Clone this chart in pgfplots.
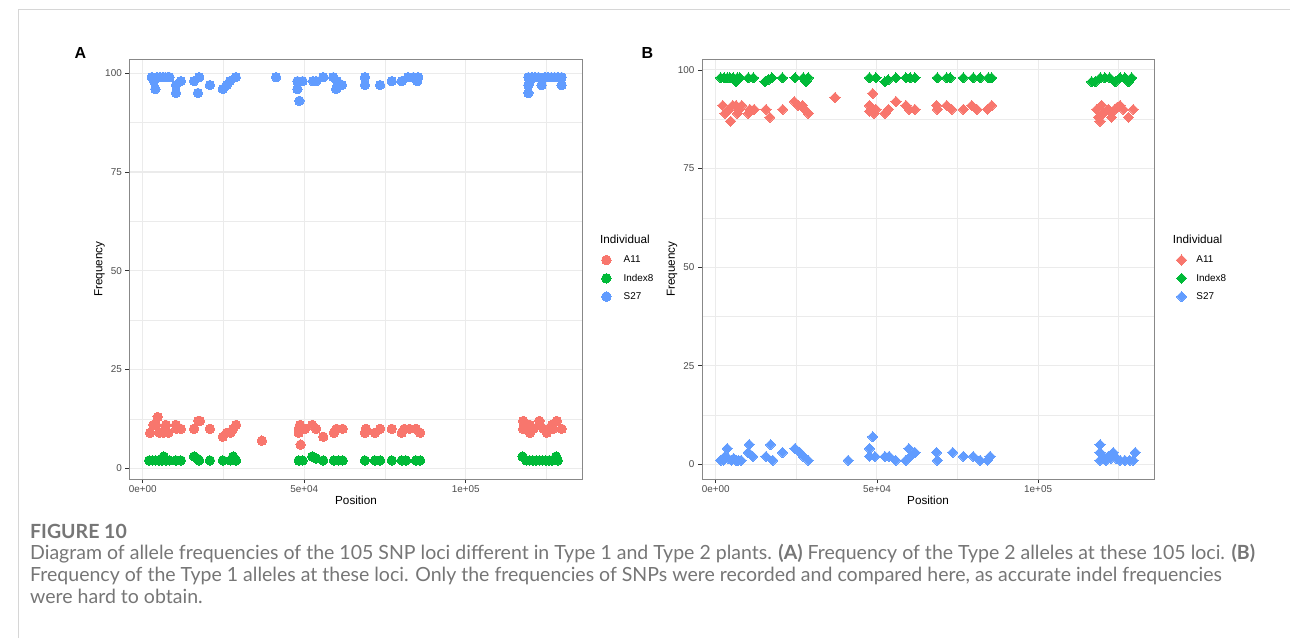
\documentclass[border=0pt]{standalone}
\usepackage{fontspec}
\setmainfont{Liberation Sans}
\newfontfamily\capfont{Lato}
\usepackage{pgfplots}
\pgfplotsset{compat=1.18}
\definecolor{cA}{HTML}{F8766D}
\definecolor{cI}{HTML}{00BA38}
\definecolor{cS}{HTML}{619CFF}
\definecolor{gridc}{HTML}{EBEBEB}
\definecolor{tickc}{HTML}{4D4D4D}
\definecolor{framec}{HTML}{888888}
\definecolor{capc}{HTML}{767676}
\definecolor{outc}{HTML}{D6D6D6}
\newlength\capw

\pgfplotsset{
 ggbase/.style={
  scale only axis, anchor=south west,
  axis line style={framec, line width=0.8pt},
  tick align=outside, major tick length=4pt, minor tick length=0pt,
  tick pos=left,
  tick style={black!80, line width=0.8pt},
  xtick={0,50000,100000}, xticklabels={0e+00,5e+04,1e+05},
  ytick={0,25,50,75,100}, yticklabels={0,25,50,75,100},
  minor xtick={25000,75000,125000}, minor ytick={12.5,37.5,62.5,87.5},
  xmajorgrids, ymajorgrids, xminorgrids, yminorgrids,
  major grid style={gridc, line width=1.1pt},
  minor grid style={gridc, line width=0.55pt},
  tick label style={font=\fontsize{9.9}{10}\selectfont, text=tickc},
  xticklabel style={yshift=1pt},
  scaled x ticks=false,
  legend style={draw=none, fill=none, inner sep=0pt, outer sep=0pt, anchor=north west,
    font=\fontsize{9.9}{10}\selectfont, row sep=0pt,
    nodes={inner sep=0pt, minimum height=18.3pt}},
  legend cell align=left,
  legend image code/.code={\draw[##1] plot coordinates {(0pt,0pt)};},
 },
 dotA/.style={only marks, mark=*, mark size=4.7pt, color=#1, mark options={fill=#1, draw=#1, line width=0pt}},
 dotB/.style={only marks, mark=square*, mark size=3.6pt, color=#1, mark options={rotate=45, fill=#1, draw=#1, line width=0pt}},
}

\begin{document}
\settowidth\capw{\capfont\fontsize{10}{12}\selectfont Diagram of allele frequencies of the 105 SNP loci different in Type 1 and Type 2 plants. \textbf{(A)} Frequency of the Type 2 alleles at these 105 loci. \textbf{(B)}}%
\pgfmathsetmacro\capsz{10*1225/\capw}%
\begin{tikzpicture}[x=1pt,y=1pt]
\useasboundingbox (0,0) rectangle (1290,638);
\fill[white] (0,0) rectangle (1290,638);
\draw[outc, line width=1pt] (18.5,0) -- (18.5,628) -- (1290,628);

% ---------------- Panel A ----------------
\begin{axis}[ggbase, at={(129.3pt,159pt)}, width=453.4pt, height=420pt,
  xmin=-4150, xmax=136223, ymin=-2.7, ymax=103.6,
  legend style={at={(axis description cs:1.0419,0.5432)}, column sep=12.6pt}]
\addplot[dotA=cA] coordinates {
(2270,9)(3300,11)(4100,11)(4640,13)(5160,9)(6400,9)(7200,11)(6900,10)(7900,9)
(10300,11)(10500,10)(11800,10)
(15900,10)(17200,12)(17700,12)
(20800,10)
(24800,8)(26000,9)(27200,9)(28000,10)(28900,11)
(36900,7)
(48700,11)(48300,10)(48300,9)(49500,10)(50300,10)(48900,6)
(52500,11)(53700,10)(55900,8)
(59200,9)(60000,10)(61900,10)
(68800,9)(69100,10)(71900,9)(73500,10)(77100,10)(80200,9)(81000,10)(82600,10)(84600,10)(85900,9)
(117800,12)(117800,10)(119900,9)(119900,11)(121000,10)(122800,12)(123000,11)(125100,9)(124100,10)(126700,11)(127100,10)(128200,12)(129700,10)
};
\addlegendentry{A11}
\addplot[dotA=cI] coordinates {
(2000,2)(3000,2)(4000,2)(5000,2)(6000,2)(6500,3)(7300,2)(8300,2)(10300,2)(11800,2)
(15900,3)(16800,2.5)(17500,2)(20800,2)(24800,2)(27200,2)(28000,3)(28900,2)
(48300,2)(49500,2)(52500,3)(53700,2.5)(55900,2)(59200,2)(60600,2)(61900,2)
(68800,2)(71900,2)(73500,2)(77100,2)(80200,2)(81500,2)(84600,2)(85900,2)
(117600,3)(118800,2)(119800,2)(120800,2)(121800,2)(122800,2)(123800,2)(124800,2)(125800,2)(126800,2)(128000,3)(128500,2)
};
\addlegendentry{Index8}
\addplot[dotA=cS] coordinates {
(2800,99)(3500,98)(3900,96)(4500,99)(5400,99)(6200,99)(7000,99)(7800,99)(8300,99)
(10300,97)(10300,95)(11800,98)
(15900,98)(17500,99)(17100,95)
(20800,97)
(24800,96)(26000,97)(27000,98)(28800,99)
(41300,99)
(47900,98)(47900,96)(48500,93)(49500,98)
(52700,98)(53700,98)(55900,99)
(59000,99)(60200,98)(59900,96)(61700,97)
(68800,99)(68800,97)(73500,97)(77100,98)(80200,98)(82200,99)(83800,99)(85300,99)(85000,98)
(119400,99)(119400,95)(119400,97)(119900,98)(120500,99)(121500,99)(122500,99)(123500,97)(124500,99)(125500,99)(126500,99)(127500,99)(128500,99)(129700,97)(129700,99)
};
\addlegendentry{S27}
\end{axis}

% ---------------- Panel B ----------------
\begin{axis}[ggbase, at={(702pt,159pt)}, width=452.3pt, height=419.7pt,
  xmin=-4250, xmax=136040, ymin=-3.73, ymax=102.7,
  legend style={at={(axis description cs:1.049,0.5436)}, column sep=9.8pt}]
\addplot[dotB=cA] coordinates {
(2170,91)(2900,89)(3600,89.5)(4640,87)(5260,91)(6300,91)(6700,89)(7300,90)(8050,91)(10100,89)(10600,90)(11900,90)
(15600,90)(16800,88)(20800,90)
(24400,92)(25600,91)(26900,91)(27600,90)(28700,89)
(37000,93)
(47700,91)(47700,89.5)(48700,94)(48700,90)(49100,89)(49700,90)
(52500,89)(53600,90)(55900,92)(59000,91)(60000,90)(61800,90)
(68500,91)(68750,90)(71650,91)(73200,90)(76800,90)(79400,91)(81000,90)(84300,90)(85600,91)
(118200,90)(118700,88)(119200,87)(119700,91)(120200,89)(121800,90)(122800,88)(123800,90)(124500,90.5)(125400,91)(126400,90)(128000,88)(129500,90)
};
\addlegendentry{A11}
\addplot[dotB=cI] coordinates {
(1540,98)(2600,98)(3600,98)(4400,98)(5400,98)(6300,97)(6700,98)(7500,98)(10100,98)(11700,98)
(15300,97)(16300,97.5)(17400,98)(20700,98)(24600,98)(27200,98)(28000,97)(28700,98)
(47700,98)(49700,98)(52500,97)(53500,97.5)(55900,98)(59000,98)(60300,98)(61800,98)
(68750,98)(71650,98)(72700,98)(76800,98)(79900,98)(82000,98)(84600,98)(85600,98)
(116600,97)(117700,97)(119300,98)(120700,98)(122200,98)(123900,97)(125400,98)(126900,98)(128000,97)(129000,98)
};
\addlegendentry{Index8}
\addplot[dotB=cS] coordinates {
(1540,1)(2400,1)(2900,2)(3600,4)(3900,1.5)(4900,1)(5600,1.5)(6300,1)(7000,1)(7900,1)(10100,3)(10400,5)(11500,2)
(15600,2)(17000,5)(17700,1)(20700,3)(24600,4)(26100,3)(27200,2)(28700,1)(41100,1)
(47700,4)(47700,2)(48700,7)(49400,2)(52500,2)(53800,2)(55800,1)(59000,1)(59900,4)(60400,2)(61800,3)
(68500,3)(68750,1)(73500,3)(76800,2)(79900,2)(82000,1)(84300,1)(85100,2)
(119200,5)(119200,3)(119200,1)(120200,2)(121000,1)(121800,2)(122500,1.5)(123300,3)(124300,1.5)(125400,1)(126900,1)(128400,1)(129500,1)(130100,3)
};
\addlegendentry{S27}
\end{axis}

% ---------------- titles and labels ----------------
\node[anchor=base, font=\fontsize{16}{16}\selectfont\bfseries] at (80.5,638-58.3) {A};
\node[anchor=base, font=\fontsize{16}{16}\selectfont\bfseries] at (647.5,638-58.3) {B};
\node[rotate=90, font=\fontsize{11.7}{12}\selectfont] at (99.5,638-269) {Frequency};
\node[rotate=90, font=\fontsize{11.7}{12}\selectfont] at (672,638-269) {Frequency};
\node[anchor=base, font=\fontsize{11.7}{12}\selectfont] at (356,638-504) {Position};
\node[anchor=base, font=\fontsize{11.7}{12}\selectfont] at (928,638-504) {Position};
\node[anchor=base west, inner sep=0pt, font=\fontsize{11.7}{12}\selectfont] at (600,638-244) {Individual};
\node[anchor=base west, inner sep=0pt, font=\fontsize{11.7}{12}\selectfont] at (1172.7,638-244) {Individual};

% ---------------- caption ----------------
\node[anchor=base west, inner sep=0pt, text=capc, font=\capfont\fontsize{\capsz}{\capsz}\selectfont\bfseries] at (30,638-538) {FIGURE 10};
\node[anchor=base west, inner sep=0pt, text=capc, font=\capfont\fontsize{\capsz}{\capsz}\selectfont] at (30,638-559) {Diagram of allele frequencies of the 105 SNP loci different in Type 1 and Type 2 plants. \textbf{(A)} Frequency of the Type 2 alleles at these 105 loci. \textbf{(B)}};
\node[anchor=base west, inner sep=0pt, text=capc, font=\capfont\fontsize{\capsz}{\capsz}\selectfont] at (30,638-581) {Frequency of the Type 1 alleles at these loci. Only the frequencies of SNPs were recorded and compared here, as accurate indel frequencies};
\node[anchor=base west, inner sep=0pt, text=capc, font=\capfont\fontsize{\capsz}{\capsz}\selectfont] at (30,638-603) {were hard to obtain.};
\end{tikzpicture}
\end{document}
